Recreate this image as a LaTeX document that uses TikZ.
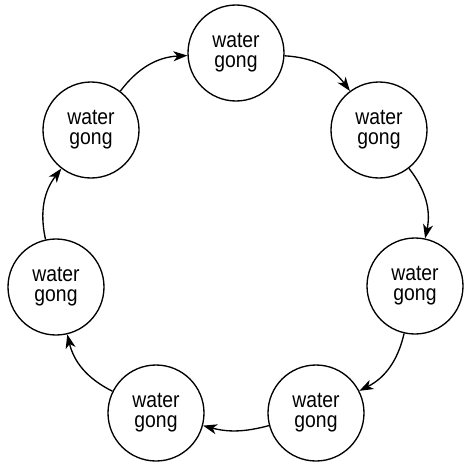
\documentclass[tikz,border=0pt]{standalone}
\usepackage{fontspec}
\setmainfont{Liberation Sans}[FakeStretch=0.88]
\usetikzlibrary{arrows.meta}

\begin{document}
\begin{tikzpicture}[x=0.75pt,y=-0.75pt,
    every node/.style={draw,circle,line width=1pt,minimum size=72pt,inner sep=0pt,
        align=center,font=\fontsize{16.5}{15}\selectfont},
    flow/.style={line width=1pt,-{Stealth[length=10.5pt,width=7.5pt,inset=3pt]},bend left=25}]
            \useasboundingbox (0,0) rectangle (464,461);
            % the seven gongs, clockwise from the top
            \node(g1) at (236,53) {water\\gong};
            \node(g2) at (379,130) {water\\gong};
            \node(g3) at (415,286) {water\\gong};
            \node(g4) at (316,413) {water\\gong};
            \node(g5) at (156,413) {water\\gong};
            \node(g6) at (56,287) {water\\gong};
            \node(g7) at (91,130) {water\\gong};

            \draw[flow] (g1) to (g2);
            \draw[flow] (g2) to (g3);
            \draw[flow] (g3) to (g4);
            \draw[flow] (g4) to[bend left=15] (g5);
            \draw[flow] (g5) to (g6);
            \draw[flow] (g6) to (g7);
            \draw[flow] (g7) to (g1);
        \end{tikzpicture}
\end{document}
